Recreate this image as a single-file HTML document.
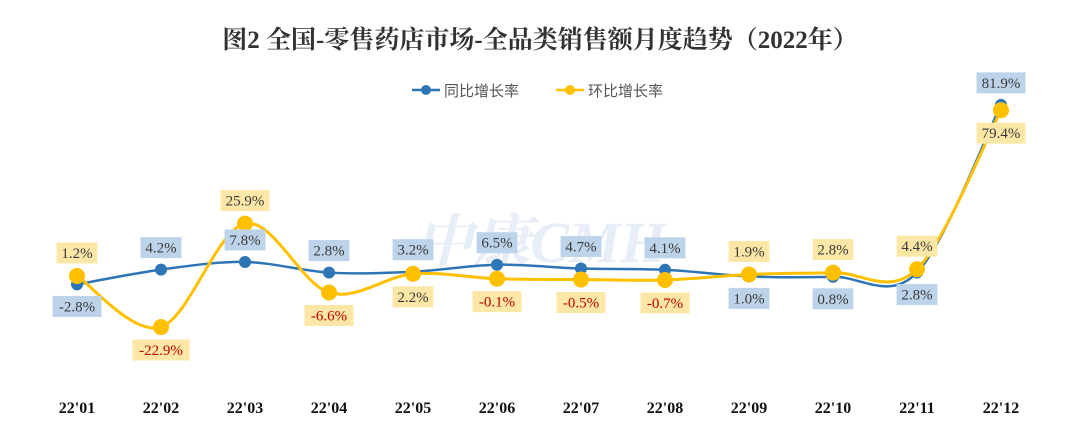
<!DOCTYPE html>
<html><head><meta charset="utf-8"><style>
body{margin:0;background:#fff;}
svg{display:block;}
</style></head><body>
<svg id="chart" width="1080" height="424" xmlns="http://www.w3.org/2000/svg">
<text x="540" y="48" text-anchor="middle" font-family="'Liberation Serif','Noto Serif CJK SC',serif" font-size="25" font-weight="bold" fill="#333">图2  全国-零售药店市场-全品类销售额月度趋势（2022年）</text>
<text x="540" y="262" text-anchor="middle" font-family="'Liberation Serif','Noto Serif CJK SC',serif" font-size="58" font-style="italic" font-weight="bold" fill="#dde8f4" opacity="0.7">中康CMH</text>
<g>
<g><line x1="412" y1="90" x2="440" y2="90" stroke="#2e75b6" stroke-width="2.5"/><circle cx="426" cy="90" r="5" fill="#2e75b6"/><text x="444" y="96" font-family="'Liberation Sans','Noto Sans CJK SC',sans-serif" font-size="15" fill="#555">同比增长率</text></g>
<g><line x1="556" y1="90" x2="584" y2="90" stroke="#ffc000" stroke-width="2.5"/><circle cx="570" cy="90" r="5" fill="#ffc000"/><text x="588" y="96" font-family="'Liberation Sans','Noto Sans CJK SC',sans-serif" font-size="15" fill="#555">环比增长率</text></g>
</g>
<g id="plot"></g>
</svg>
<script>
const categories=["22'01","22'02","22'03","22'04","22'05","22'06","22'07","22'08","22'09","22'10","22'11","22'12"];
const yoyValues=[-2.8,4.2,7.8,2.8,3.2,6.5,4.7,4.1,1.0,0.8,2.8,81.9];
const momValues=[1.2,-22.9,25.9,-6.6,2.2,-0.1,-0.5,-0.7,1.9,2.8,4.4,79.4];
const yoyLabelPos=["below","above","above","above","above","above","above","above","below","below","below","above"];
const momLabelPos=["above","below","above","below","below","below","below","below","above","above","above","below"];
const NS="http://www.w3.org/2000/svg";
const plot=document.getElementById('plot');
function xScale(i){return 77+i*84;}
function yScale(v){return 278.5-v*2.12;}
function mk(tag,attrs,parent){const e=document.createElementNS(NS,tag);for(const k in attrs)e.setAttribute(k,attrs[k]);(parent||plot).appendChild(e);return e;}
function smoothPath(vals){
  const p=vals.map((v,i)=>[xScale(i),yScale(v)]);
  let d=`M${p[0][0]},${p[0][1]}`;
  for(let i=0;i<p.length-1;i++){
    const p0=p[i-1]||p[i],p1=p[i],p2=p[i+1],p3=p[i+2]||p2;
    const t=0.5/3;
    d+=` C${p1[0]+(p2[0]-p0[0])*t},${p1[1]+(p2[1]-p0[1])*t} ${p2[0]-(p3[0]-p1[0])*t},${p2[1]-(p3[1]-p1[1])*t} ${p2[0]},${p2[1]}`;
  }
  return d;
}
categories.forEach((c,i)=>{
  const t=mk('text',{x:xScale(i),y:413,'text-anchor':'middle','font-family':"'Liberation Serif',serif",'font-size':16,'font-weight':'bold',fill:'#111'});
  t.textContent=c;
  
  
});
const yl=mk('path',{d:smoothPath(yoyValues),fill:'none',stroke:'#2e75b6','stroke-width':2.5});


const ml=mk('path',{d:smoothPath(momValues),fill:'none',stroke:'#ffc000','stroke-width':3});


yoyValues.forEach((v,i)=>{
  const c=mk('circle',{cx:xScale(i),cy:yScale(v),r:6,fill:'#2e75b6'});
  
  
});
momValues.forEach((v,i)=>{
  const c=mk('circle',{cx:xScale(i),cy:yScale(v),r:8,fill:'#ffc000'});
  
  
});
function label(v,i,pos,bg,color,off){
  const txt=v.toFixed(1)+'%';
  const w=txt.length*8.2+8,h=21;
  const cx=xScale(i);
  const cy=pos==='above'?yScale(v)-off:yScale(v)+off;
  const g=mk('g',{});
  
  
  mk('rect',{x:cx-w/2,y:cy-h/2,width:w,height:h,fill:bg},g);
  const t=mk('text',{x:cx,y:cy+5,'text-anchor':'middle','font-family':"'Liberation Serif',serif",'font-size':15,fill:color},g);
  t.textContent=txt;
}
yoyValues.forEach((v,i)=>label(v,i,yoyLabelPos[i],'#bdd3ea','#3a3a3a',22));
momValues.forEach((v,i)=>label(v,i,momLabelPos[i],'#fde7a6',v<0?'#c00000':'#3a3a3a',23));
</script>
</body></html>
